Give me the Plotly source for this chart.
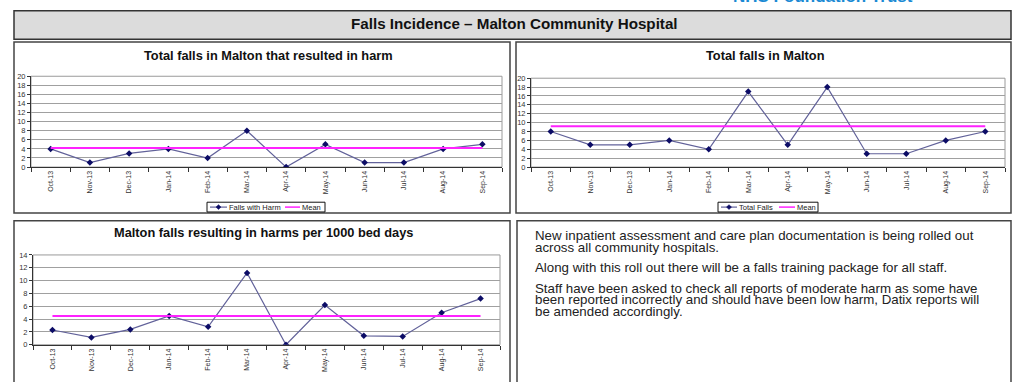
import plotly.graph_objects as go

W, H = 1013, 382

months = ["Oct-13", "Nov-13", "Dec-13", "Jan-14", "Feb-14", "Mar-14",
          "Apr-14", "May-14", "Jun-14", "Jul-14", "Aug-14", "Sep-14"]

falls_with_harm = [4, 1, 3, 4, 2, 8, 0, 5, 1, 1, 4, 5]
falls_with_harm_mean = 4.2

total_falls = [8, 5, 5, 6, 4, 17, 5, 18, 3, 3, 6, 8]
total_falls_mean = 9.2

harm_per_1000_bed_days = [2.3, 1.15, 2.4, 4.5, 2.8, 11.2, 0, 6.2, 1.4, 1.3, 5.0, 7.2]
harm_per_1000_mean = 4.5

notes = [
    "New inpatient assessment and care plan documentation is being rolled out",
    "across all community hospitals.",
    "Along with this roll out there will be a falls training package for all staff.",
    "Staff have been asked to check all reports of moderate harm as some have",
    "been reported incorrectly and should have been low harm, Datix reports will",
    "be amended accordingly.",
]
note_rows = [237, 249, 270, 291, 303, 315]

FONT = "Arial, Liberation Sans, sans-serif"
LINE_COL = "#62629a"
MARK_COL = "#0c0c66"
MEAN_COL = "#ff22ff"


def px(x):
    return x / W


def py(y):
    return 1 - y / H


fig = go.Figure()

# (axis suffix, x-pixels, y-pixels, values, mean, y max, series name)
charts = [
    ("", (31, 502), (74, 167), falls_with_harm, falls_with_harm_mean, 20,
     "Falls with Harm"),
    ("2", (531, 1005), (76, 167), total_falls, total_falls_mean, 20,
     "Total Falls"),
    ("3", (33, 500), (257, 349), harm_per_1000_bed_days, harm_per_1000_mean, 14,
     "Harms per 1000 bed days"),
]

shapes = []
annotations = []

# header band and the four panels
shapes.append(dict(type="rect", xref="paper", yref="paper",
                   x0=px(14), x1=px(1011), y0=py(36), y1=py(7),
                   fillcolor="#dcdcdc", line=dict(color="#333", width=1.5),
                   layer="below"))
for (a, b), (c, d) in [((14, 510), (39, 214)), ((516, 1011), (39, 214)),
                       ((14, 510), (222, 395)), ((517, 1011), (222, 395))]:
    shapes.append(dict(type="rect", xref="paper", yref="paper",
                       x0=px(a), x1=px(b), y0=py(d), y1=py(c),
                       fillcolor="white", line=dict(color="#444", width=1.5),
                       layer="below"))

for suffix, (x0, x1), (y0, y1), vals, mean, ymax, name in charts:
    xa, ya = "x" + suffix, "y" + suffix
    fig.add_trace(go.Scatter(
        x=months, y=vals, name=name, mode="lines+markers",
        line=dict(color=LINE_COL, width=1.2),
        marker=dict(symbol="diamond", size=5, color=MARK_COL),
        xaxis=xa, yaxis=ya, showlegend=False,
    ))
    fig.add_trace(go.Scatter(
        x=months, y=[mean] * len(months), name="Mean", mode="lines",
        line=dict(color=MEAN_COL, width=2),
        xaxis=xa, yaxis=ya, showlegend=False,
    ))
    fig.update_layout(**{
        "xaxis" + suffix: dict(
            domain=[px(x0), px(x1)], anchor=ya, type="category",
            range=[-0.5, 11.5], tickson="boundaries", showgrid=False,
            ticks="outside", ticklen=4, tickcolor="#333", tickangle=-90,
            showline=True, linecolor="#333", linewidth=1,
            tickfont=dict(family=FONT, size=7, color="#333"),
            zeroline=False, fixedrange=True,
        ),
        "yaxis" + suffix: dict(
            domain=[py(y1), py(y0)], anchor=xa, range=[0, ymax], dtick=2,
            showgrid=True, gridcolor="#a0a0a0", gridwidth=1,
            ticks="outside", ticklen=3, tickcolor="#333",
            showline=True, linecolor="#333", linewidth=1,
            tickfont=dict(family=FONT, size=7.5, color="#333"),
            zeroline=False, fixedrange=True,
        ),
    })
    # plot-area frame
    shapes.append(dict(type="rect", xref=xa + " domain", yref=ya + " domain",
                       x0=0, x1=1, y0=0, y1=1,
                       line=dict(color="#9a9a9a", width=1), layer="below"))


def add_key(box, series_name, series_x, series_text_x, mean_x, mean_text_x, cy=208):
    """Boxed key under a chart: series line with diamond, then the mean line."""
    bx0, bx1 = box
    shapes.append(dict(type="rect", xref="paper", yref="paper",
                       x0=px(bx0), x1=px(bx1), y0=py(cy + 5), y1=py(cy - 5),
                       fillcolor="white", line=dict(color="#111", width=1)))
    sx0, sx1 = series_x
    shapes.append(dict(type="line", xref="paper", yref="paper",
                       x0=px(sx0), x1=px(sx1), y0=py(cy), y1=py(cy),
                       line=dict(color=LINE_COL, width=1.2)))
    cx = (sx0 + sx1) / 2
    r = 2.5
    shapes.append(dict(
        type="path", xref="paper", yref="paper",
        path=(f"M {px(cx - r)} {py(cy)} L {px(cx)} {py(cy - r)} "
              f"L {px(cx + r)} {py(cy)} L {px(cx)} {py(cy + r)} Z"),
        fillcolor=MARK_COL, line=dict(color=MARK_COL, width=0.5)))
    mx0, mx1 = mean_x
    shapes.append(dict(type="line", xref="paper", yref="paper",
                       x0=px(mx0), x1=px(mx1), y0=py(cy), y1=py(cy),
                       line=dict(color=MEAN_COL, width=1.5)))
    for txt, tx in [(series_name, series_text_x), ("Mean", mean_text_x)]:
        annotations.append(dict(text=txt, x=px(tx), y=py(cy), xanchor="left",
                                font=dict(family=FONT, size=7.5, color="#222")))


add_key((207, 325), "Falls with Harm", (210, 227), 228, (285, 300), 301)
add_key((718, 818), "Total Falls", (721, 737), 738, (779, 795), 796)

annotations += [
    dict(text="<b>Falls Incidence – Malton Community Hospital</b>",
         x=px(514), y=py(20), font=dict(family=FONT, size=15.2, color="#111")),
    dict(text="<b>Total falls in Malton that resulted in harm</b>",
         x=px(268), y=py(53), font=dict(family=FONT, size=12.8, color="#111")),
    dict(text="<b>Total falls in Malton</b>",
         x=px(765), y=py(53), font=dict(family=FONT, size=12.8, color="#111")),
    dict(text="<b>Malton falls resulting in harms per 1000 bed days</b>",
         x=px(263), y=py(234), font=dict(family=FONT, size=12.8, color="#111")),
    dict(text="<b>NHS Foundation Trust</b>", x=px(914), y=py(-8),
         xanchor="right", font=dict(family=FONT, size=17, color="#1a8ad4")),
]
for line, row in zip(notes, note_rows):
    annotations.append(dict(text=line, x=px(534), y=py(row), xanchor="left",
                            font=dict(family=FONT, size=13.3, color="#222")))
for a in annotations:
    a.setdefault("xanchor", "center")
    a.update(xref="paper", yref="paper", yanchor="middle", showarrow=False,
             borderpad=0)

fig.update_layout(
    width=W, height=H, margin=dict(l=0, r=0, t=0, b=0),
    paper_bgcolor="white", plot_bgcolor="white",
    shapes=shapes, annotations=annotations, showlegend=False,
    hovermode=False,
)

fig.write_html("out.html")
